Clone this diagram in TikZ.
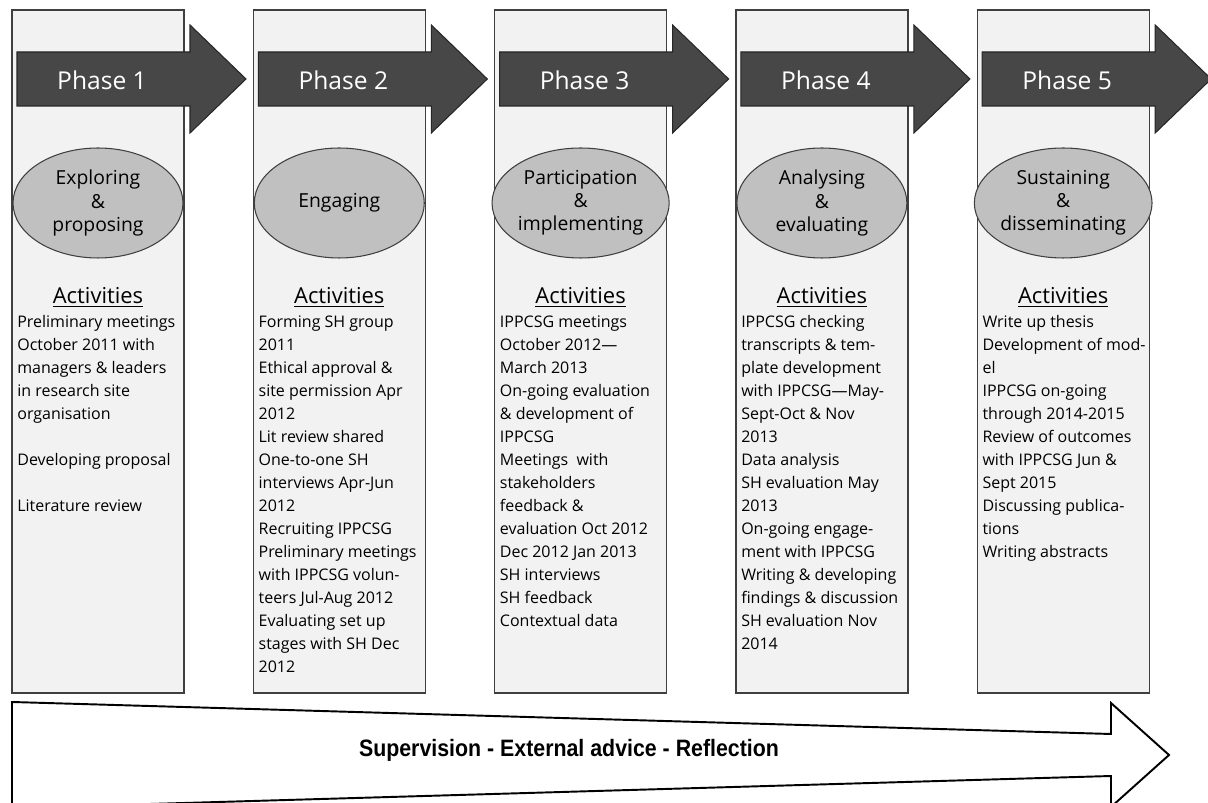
\documentclass[tikz,border=0pt]{standalone}
\usepackage{fontspec}
\setmainfont{Open Sans}
\newfontfamily\arialfont{Liberation Sans}
\usetikzlibrary{shapes.geometric,positioning}

\definecolor{colfill}{HTML}{F2F2F2}
\definecolor{colline}{HTML}{3F3F3F}
\definecolor{phasefill}{HTML}{474747}
\definecolor{ovalfill}{HTML}{C0C0C0}

\begin{document}
\begin{tikzpicture}[x=0.02cm,y=-0.02cm,
    column/.style={draw=colline,fill=colfill,line width=0.7pt},
    phasearrow/.style={draw=black!85,fill=phasefill,line width=0.6pt},
    phasetext/.style={text=white,font=\fontsize{14}{16}\selectfont},
    oval/.style={ellipse,draw=colline,fill=ovalfill,line width=0.6pt,
      minimum width=3.4cm,minimum height=2.2cm,inner sep=0pt,align=center,
      font=\fontsize{11}{13.1}\selectfont},
    acthead/.style={inner sep=0pt,font=\fontsize{12.5}{13.1}\selectfont},
    acttext/.style={anchor=north west,inner sep=0pt,align=left,
      font=\fontsize{9.1}{13.09}\selectfont},
    bigarrow/.style={draw=black,fill=white,line width=1.1pt,line join=miter}]

\useasboundingbox (0,0) rectangle (1208,803);

% phase columns, arrows and ovals
\foreach \i/\stage in {0/{Exploring\\\&\\proposing},1/{Engaging},
    2/{Participation\\\&\\implementing},3/{Analysing\\\&\\evaluating},
    4/{Sustaining\\\&\\disseminating}} {
  \pgfmathsetmacro\L{12+241.3*\i}
  \draw[column] (\L,10) rectangle ++(172,683);
  \draw[phasearrow] (\L+5,52) -- (\L+178,52) -- (\L+178,25) -- (\L+234,79)
    -- (\L+178,133) -- (\L+178,106) -- (\L+5,106) -- cycle;
  \pgfmathtruncatemacro\n{\i+1}
  \node[phasetext] (phase\n) at (\L+90,80) {Phase \n};
  \node[oval] (stage\n) at (\L+86,203) {\stage};
  \node[acthead] (acthead\n) at (\L+86,297) {\underline{Activities}};
}

% activities
\node[acttext] (acts1) at (17,315) {Preliminary meetings\\October 2011 with\\
  managers \& leaders\\in research site\\organisation\\[13.09pt]
  Developing proposal\\[13.09pt]Literature review};
\node[acttext] (acts2) at (258.3,315) {Forming SH group\\2011\\
  Ethical approval \&\\site permission Apr\\2012\\Lit review shared\\
  One-to-one SH\\interviews Apr-Jun\\2012\\Recruiting IPPCSG\\
  Preliminary meetings\\with IPPCSG volun-\\teers Jul-Aug 2012\\
  Evaluating set up\\stages with SH Dec\\2012};
\node[acttext] (acts3) at (499.6,315) {IPPCSG meetings\\October 2012—\\
  March 2013\\On-going evaluation\\\& development of\\IPPCSG\\
  Meetings~ with\\stakeholders\\feedback \&\\evaluation Oct 2012\\
  Dec 2012 Jan 2013\\SH interviews\\SH feedback\\Contextual data};
\node[acttext] (acts4) at (740.9,315) {IPPCSG checking\\transcripts \& tem-\\
  plate development\\with IPPCSG—May-\\Sept-Oct \& Nov\\2013\\
  Data analysis\\SH evaluation May\\2013\\On-going engage-\\
  ment with IPPCSG\\Writing \& developing\\findings \& discussion\\
  SH evaluation Nov\\2014};
\node[acttext] (acts5) at (982.2,315) {Write up thesis\\Development of mod-\\
  el\\IPPCSG on-going\\through 2014-2015\\Review of outcomes\\
  with IPPCSG Jun \&\\Sept 2015\\Discussing publica-\\tions\\Writing abstracts};

% supervision arrow
\draw[bigarrow] (12,702) -- (1111,734) -- (1111,703) -- (1169,755)
  -- (1111,807) -- (1111,776) -- (12,808) -- cycle;
\node[font=\arialfont\bfseries\fontsize{13.5}{16}\selectfont] (support) at (569,750)
  {\scalebox{0.9}[1]{Supervision - External advice - Reflection}};
\end{tikzpicture}
\end{document}
